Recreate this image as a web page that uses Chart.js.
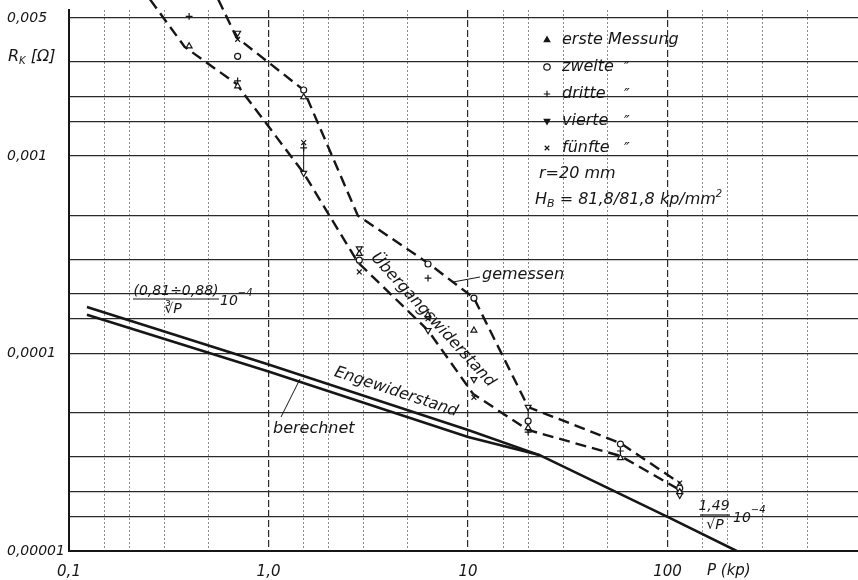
<!DOCTYPE html>
<html lang="de">
<head>
<meta charset="utf-8">
<title>Kontaktwiderstand R_K über P</title>
<script src="https://cdn.jsdelivr.net/npm/chart.js@4.4.1/dist/chart.umd.min.js"></script>
<style>
  html, body { margin: 0; padding: 0; background: #fff; }
  canvas { display: block; }
</style>
</head>
<body>
<canvas id="rkChart" width="858" height="580"></canvas>
<script>
/* -------------------------------------------------------
   AXES: grid values and tick labels (P in kp, R_K in Ohm)
------------------------------------------------------- */
const xGridValues = [0.1, 0.15, 0.2, 0.3, 0.5, 1, 1.5, 2, 3, 5, 10, 15, 20, 30, 50, 100, 150, 200, 300, 500];
const xTickValues = [0.1, 1, 10, 100];
const xTickLabels = ["0,1", "1,0", "10", "100"];

const yGridValues = [0.00001, 0.000015, 0.00002, 0.00003, 0.00005, 0.0001, 0.00015, 0.0002, 0.0003, 0.0005, 0.001, 0.0015, 0.002, 0.003, 0.005];
const yTickValues = [0.00001, 0.0001, 0.001, 0.005];
const yTickLabels = ["0,00001", "0,0001", "0,001", "0,005"];

/* -------------------------------------------------------
   DATA: measured transition resistance (dashed band)
------------------------------------------------------- */
const upperCurveP = [0.56, 0.69, 1.5, 2.8, 6.3, 10.7, 20, 58, 115];
const upperCurveR = [0.0062, 0.004, 0.00216, 0.0005, 0.000287, 0.000191, 0.0000536, 0.0000352, 0.0000221];

const lowerCurveP = [0.255, 0.38, 0.69, 1.5, 2.8, 6.3, 10.6, 20, 58, 115];
const lowerCurveR = [0.0062, 0.00357, 0.00232, 0.00082, 0.00029, 0.000131, 0.0000624, 0.000041, 0.0000303, 0.0000204];

/* -------------------------------------------------------
   DATA: calculated constriction resistance (solid lines)
------------------------------------------------------- */
const calcUpperP = [0.123, 1, 10, 23, 100, 222];
const calcUpperR = [0.000172, 0.000088, 0.000041, 0.0000305, 0.0000149, 0.00001];

const calcLowerP = [0.123, 1, 10, 23];
const calcLowerR = [0.000157, 0.000081, 0.0000378, 0.0000305];

/* -------------------------------------------------------
   DATA: single measurements (five runs)
------------------------------------------------------- */
const ersteP = [0.4, 0.7, 1.5, 2.85, 6.3, 10.7, 20, 58, 115];
const ersteR = [0.0036, 0.00226, 0.00199, 0.00032, 0.000157, 0.000131, 0.000042, 0.0000296, 0.0000199];

const zweiteP = [0.7, 1.5, 2.85, 6.3, 10.7, 20, 58, 115];
const zweiteR = [0.0032, 0.00216, 0.000297, 0.000284, 0.000191, 0.0000455, 0.0000348, 0.0000208];

const dritteP = [0.4, 0.7, 1.5, 6.3, 20, 58];
const dritteR = [0.0051, 0.0024, 0.0011, 0.000241, 0.00004, 0.0000321];

const vierteP = [0.7, 1.5, 2.85, 6.3, 10.7, 20, 115];
const vierteR = [0.0042, 0.00082, 0.00034, 0.000131, 0.000074, 0.0000536, 0.0000192];

const fuenfteP = [0.7, 1.5, 2.85, 6.3, 10.7, 115];
const fuenfteR = [0.0039, 0.00117, 0.000259, 0.00015, 0.00006, 0.0000221];

/* scatter range bars */
const barP = [1.5, 20];
const barLowR = [0.00082, 0.0000395];
const barHighR = [0.00118, 0.0000545];

/* -------------------------------------------------------
   STYLE
------------------------------------------------------- */
const FONT = '"DejaVu Sans", sans-serif';
const INK = "#161616";

const pts = (xs, ys) => xs.map((v, i) => ({ x: v, y: ys[i] }));
const isDecade = (v) => Math.abs(Math.log10(v) - Math.round(Math.log10(v))) < 1e-6;

const runs = [
  { label: "erste Messung", p: ersteP, r: ersteR, style: "triangle", rot: 0, ditto: false },
  { label: "zweite", p: zweiteP, r: zweiteR, style: "circle", rot: 0, ditto: true },
  { label: "dritte", p: dritteP, r: dritteR, style: "cross", rot: 0, ditto: true },
  { label: "vierte", p: vierteP, r: vierteR, style: "triangle", rot: 180, ditto: true },
  { label: "fünfte", p: fuenfteP, r: fuenfteR, style: "crossRot", rot: 0, ditto: true },
];

const datasets = [];

// markers first so they are drawn on top
runs.forEach((run) => {
  datasets.push({
    label: run.label,
    data: pts(run.p, run.r),
    showLine: false,
    pointStyle: run.style,
    rotation: run.rot,
    pointRadius: run.style === "circle" ? 3 : 3.4,
    pointBorderWidth: 1.2,
    pointBorderColor: INK,
    pointBackgroundColor: "#fff",
  });
});

barP.forEach((p, i) => {
  datasets.push({
    data: [{ x: p, y: barLowR[i] }, { x: p, y: barHighR[i] }],
    showLine: true,
    borderColor: INK,
    borderWidth: 1,
    pointRadius: 0,
  });
});

const dashed = {
  showLine: true,
  borderColor: INK,
  borderWidth: 2.4,
  borderDash: [11, 6],
  pointRadius: 0,
  clip: { left: 0, top: false, right: 0, bottom: 0 },
};
datasets.push({ ...dashed, data: pts(upperCurveP, upperCurveR) });
datasets.push({ ...dashed, data: pts(lowerCurveP, lowerCurveR) });

const solid = { showLine: true, borderColor: INK, borderWidth: 2.6, pointRadius: 0 };
datasets.push({ ...solid, data: pts(calcUpperP, calcUpperR) });
datasets.push({ ...solid, data: pts(calcLowerP, calcLowerR) });

/* -------------------------------------------------------
   TEXT: legend, axis titles, curve labels, formulas
------------------------------------------------------- */
function say(ctx, s, x, y, size, align, angle) {
  ctx.save();
  ctx.translate(x, y);
  if (angle) ctx.rotate((angle * Math.PI) / 180);
  ctx.font = `italic ${size}px ${FONT}`;
  ctx.textAlign = align || "left";
  ctx.textBaseline = "middle";
  ctx.fillStyle = INK;
  ctx.fillText(s, 0, 0);
  ctx.restore();
}

// pieces: [text, size, dy]
function sayRun(ctx, x, y, pieces) {
  let cx = x;
  ctx.save();
  ctx.textAlign = "left";
  ctx.textBaseline = "middle";
  ctx.fillStyle = INK;
  pieces.forEach(([s, size, dy]) => {
    ctx.font = `italic ${size}px ${FONT}`;
    ctx.fillText(s, cx, y + (dy || 0));
    cx += ctx.measureText(s).width;
  });
  ctx.restore();
}

function line(ctx, x1, y1, x2, y2, w) {
  ctx.save();
  ctx.strokeStyle = INK;
  ctx.lineWidth = w || 1;
  ctx.beginPath();
  ctx.moveTo(x1, y1);
  ctx.lineTo(x2, y2);
  ctx.stroke();
  ctx.restore();
}

const annotations = {
  id: "annotations",
  afterDraw(chart) {
    const ctx = chart.ctx;

    // legend block
    runs.forEach((run, i) => {
      const y = 40 + i * 27;
      ctx.save();
      ctx.strokeStyle = INK;
      ctx.fillStyle = run.style === "triangle" ? INK : "#fff";
      ctx.lineWidth = 1.2;
      Chart.helpers.drawPoint(ctx, { pointStyle: run.style, rotation: run.rot, radius: 3.2, borderWidth: 1.2 }, 547, y);
      ctx.restore();
      say(ctx, run.label, 562, y, 16);
      if (run.ditto) say(ctx, "\u2033", 624, y + 2, 15);
    });
    say(ctx, "r=20 mm", 539, 174, 16);
    sayRun(ctx, 535, 200, [["H", 16], ["B", 11, 4], [" = 81,8/81,8 kp/mm", 16], ["2", 10, -6]]);

    // axis titles
    sayRun(ctx, 8, 57, [["R", 16], ["K", 10, 4], [" [\u03A9]", 16]]);
    say(ctx, "P (kp)", 707, 571, 15);

    // curve labels
    say(ctx, "gemessen", 482, 275, 16);
    line(ctx, 453, 282, 480, 277, 1);
    say(ctx, "berechnet", 273, 429, 16);
    line(ctx, 300, 379, 281, 417, 1);
    say(ctx, "\u00DCbergangswiderstand", 433, 320, 16, "center", 47.5);
    say(ctx, "Engewiderstand", 396, 392, 16, "center", 18.3);

    // (0,81 ÷ 0,88)/∛P · 10^-4
    say(ctx, "(0,81\u00F70,88)", 176, 291, 14, "center");
    line(ctx, 133, 299, 219, 299, 1.2);
    say(ctx, "\u221BP", 173, 309, 14, "center");
    sayRun(ctx, 220, 301, [["10", 14], ["\u22124", 10, -8]]);

    // 1,49/√P · 10^-4
    say(ctx, "1,49", 714, 506, 14, "center");
    line(ctx, 700, 515, 730, 515, 1.2);
    say(ctx, "\u221AP", 715, 525, 14, "center");
    sayRun(ctx, 733, 518, [["10", 14], ["\u22124", 10, -8]]);
  },
};

/* -------------------------------------------------------
   CHART
------------------------------------------------------- */
new Chart(document.getElementById("rkChart"), {
  type: "scatter",
  data: { datasets },
  options: {
    responsive: false,
    animation: false,
    events: [],
    layout: { autoPadding: false, padding: { top: 10, right: 0, bottom: 0, left: 7 } },
    plugins: { legend: { display: false }, tooltip: { enabled: false } },
    scales: {
      x: {
        type: "logarithmic",
        min: 0.1,
        max: 900,
        afterBuildTicks: (axis) => {
          axis.ticks = xGridValues.map((v) => ({ value: v }));
        },
        afterFit: (axis) => {
          axis.height = 29;
          axis.paddingLeft = 0;
          axis.paddingRight = 0;
        },
        ticks: {
          autoSkip: false,
          maxRotation: 0,
          padding: 12,
          color: INK,
          font: { family: FONT, style: "italic", size: 15 },
          callback: (v) => {
            const i = xTickValues.indexOf(v);
            return i < 0 ? "" : xTickLabels[i];
          },
        },
        grid: {
          drawTicks: false,
          color: (c) => (c.tick && isDecade(c.tick.value) ? "#2a2a2a" : "#8a8a8a"),
          lineWidth: (c) => (c.tick && isDecade(c.tick.value) ? 1.2 : 1),
        },
        border: {
          color: INK,
          width: 2,
          dash: (c) => (c.tick ? (isDecade(c.tick.value) ? [7, 3] : [2, 2]) : []),
        },
      },
      y: {
        type: "logarithmic",
        min: 0.00001,
        max: 0.00549,
        afterBuildTicks: (axis) => {
          axis.ticks = yGridValues.map((v) => ({ value: v }));
        },
        afterFit: (axis) => {
          axis.width = 62;
          axis.paddingTop = 0;
          axis.paddingBottom = 0;
        },
        ticks: {
          autoSkip: false,
          crossAlign: "far",
          padding: 8,
          color: INK,
          font: { family: FONT, style: "italic", size: 14 },
          callback: (v) => {
            const i = yTickValues.indexOf(v);
            return i < 0 ? "" : yTickLabels[i];
          },
        },
        grid: { drawTicks: false, color: "#2a2a2a", lineWidth: 1.3 },
        border: { color: INK, width: 2 },
      },
    },
  },
  plugins: [annotations],
});
</script>
</body>
</html>
